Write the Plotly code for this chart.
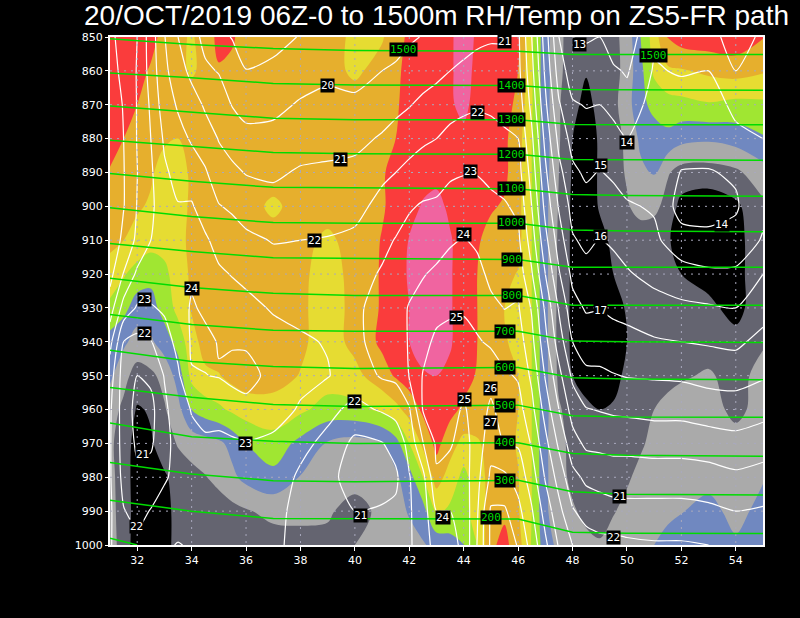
import numpy as np
import plotly.graph_objects as go

TITLE = "20/OCT/2019 06Z-0 to 1500m RH/Temp on ZS5-FR path"

pressure = [850, 860, 870, 880, 890, 900, 910, 920, 930, 940, 950, 960, 970, 980, 990, 1000]

# relative humidity, one list per pressure level
lon_rh = [31, 31.5, 32, 32.5, 33, 33.5, 34, 34.5, 35, 35.5, 36, 37, 38, 39, 40, 41, 41.5, 42, 42.5, 43, 43.5,
          44, 44.5, 45, 45.5, 46, 46.5, 47, 47.5, 48, 48.5, 49, 49.5, 50, 50.5, 51, 51.5, 52, 53, 54, 55]
rh_850 = [88, 88, 87, 83, 77, 72, 69, 74, 83, 81, 76, 74, 75, 74, 68, 69, 76, 82, 85, 87, 89,
          93, 89, 86, 85, 81, 62, 44, 32, 26, 25, 25, 27, 34, 50, 65, 81, 85, 86, 87, 80.5]
rh_860 = [87, 86, 83, 79, 75, 72, 69, 72, 79, 78, 75, 74, 75, 74, 68, 74, 78, 83, 85, 87, 89,
          93, 88, 86, 85, 80, 61, 44, 32, 25, 20.5, 23, 26, 34, 47, 62, 68, 69, 72, 74, 71]
rh_870 = [88, 84, 80, 77, 75, 74, 74, 75, 75, 75, 75, 75, 76, 75, 75, 76, 79, 83, 85, 87, 89,
          92, 87, 85, 83, 78, 61, 44, 31, 22, 18, 22, 27, 36, 47, 53, 56, 57, 59, 57, 58]
rh_880 = [85, 80, 76, 74, 71, 70, 73, 75, 76, 76, 76, 76, 76, 76, 76, 77, 80, 83, 85, 87, 89,
          88, 86, 84, 82, 74, 60, 44, 31, 20, 16, 21, 26, 32, 42, 45, 47, 43, 41.5, 44, 49]
rh_890 = [79, 75, 73, 71, 67, 65, 72, 76, 76, 76, 76, 75, 75, 75, 76, 79, 83, 85, 86, 87, 87,
          87, 86, 84, 82, 74, 60, 44, 30, 19, 16, 21, 26, 31, 38, 41, 31, 26, 25.5, 28, 36]
rh_900 = [75, 73, 71, 69, 65, 63, 73, 75, 75, 75, 74, 68, 74, 74, 75, 79, 83, 86, 91, 93, 88,
          85, 83, 81, 79, 73, 60, 43, 29, 18, 14, 21, 25, 29, 34, 33, 26, 17, 14, 18, 28]
rh_910 = [73, 70, 67, 64, 63, 66, 73, 75, 75, 75, 75, 74, 73, 68, 74, 80.5, 85, 90.5, 94, 95, 91,
          85, 81, 77, 75, 73, 60, 43, 28, 18, 14, 17, 22, 24, 24, 23, 21, 16, 13, 17, 26]
rh_920 = [65, 61, 56, 53, 58, 64, 72, 75, 75, 75, 75, 75, 72, 66, 73, 81, 86, 91, 95, 96, 91,
          85, 80, 75, 72, 69.5, 60, 43, 28, 18, 15, 16, 20, 22, 23, 23, 22, 20, 17, 17, 26]
rh_930 = [58, 53, 45, 46, 54, 63, 71, 75, 75, 75, 75, 75, 72, 65, 73, 81, 86, 90, 95, 96, 91,
          85, 80, 75, 70, 66, 60, 43, 27, 18, 14, 13, 16, 21, 24, 25, 25, 25, 22, 17, 26]
rh_940 = [46, 42, 36, 38.5, 45, 54, 66, 74, 75, 75, 75, 75, 72, 65, 73, 82, 86, 90, 94, 95, 91,
          85, 80, 76, 71, 67, 60, 43, 27, 18, 13, 11, 14, 20, 23, 25, 26, 27, 26, 23, 29]
rh_950 = [42, 33, 26, 28, 33, 44, 63, 68, 69.5, 73, 75, 74, 69.5, 65, 67, 76, 81, 85, 89, 90, 88,
          84, 79, 75, 72, 70, 60, 43, 28, 20, 14, 14, 17, 22, 25, 27, 28, 29, 31, 27, 33]
rh_960 = [34, 28, 19, 21, 29, 37, 50, 55, 58, 62, 65, 66, 62, 56, 57, 62, 67, 74, 82, 87, 83,
          78, 75, 74, 73, 70, 60, 43, 31, 26, 23, 20, 21, 24, 27, 30, 32, 34, 33, 28, 33]
rh_970 = [32, 25, 16, 19, 24, 31, 34, 36, 38, 43, 50, 56, 47, 39, 36, 39, 46, 60, 72, 83, 74,
          67, 69, 73, 74, 69, 60, 42, 32, 28, 26, 24, 25, 27, 29, 32, 34, 35, 35, 33, 35]
rh_980 = [33, 25, 15, 14, 19, 23, 27, 29.5, 33, 38, 43, 47, 39.5, 35, 33, 34, 38, 46, 60, 74, 66,
          57, 66, 73, 76, 70.5, 60, 42, 33, 28, 27, 26, 27, 29, 32, 33, 35, 36, 36, 35, 39]
rh_990 = [33, 26, 15, 13, 18, 22, 24, 25, 25, 27, 29, 33, 33, 31, 27, 32, 36, 41, 46, 62, 58,
          56, 66, 73, 78, 71, 60, 42, 33, 31, 28, 26, 29.5, 32, 35, 37, 38, 39.5, 44, 36, 44]
rh_1000 = [34, 26, 14, 13, 19, 21, 23, 23, 23, 24, 24, 25, 26, 28, 30, 33, 34, 36, 39, 43, 46,
           49.5, 60, 78, 83, 74, 59, 45, 37, 33, 32, 31, 33, 35, 37, 40, 43, 45, 46, 42, 46]

# temperature, one list per longitude, top to bottom
lon_temp = [31, 31.5, 32, 32.5, 33, 33.5, 34, 34.5, 35, 35.5, 36, 37, 38, 39, 40, 41, 41.5, 42, 42.5, 43, 43.5,
            44, 44.5, 45, 45.5, 46, 46.5, 47, 47.5, 48, 48.5, 49, 49.5, 50, 51, 52, 53, 54, 55]
t_31 = [26.3, 26.6, 26.9, 27, 27, 27, 26.9, 26.3, 25.5, 24.3, 23.5, 23.15, 23.1, 23.1, 23.15, 23.1]
t_31_5 = [25.5, 25.6, 25.9, 26, 26.05, 26.05, 25.7, 24.95, 23.6, 22, 21.5, 21.5, 21.55, 21.7, 22.05, 22.3]
t_32 = [25, 24.95, 24.95, 24.95, 25.02, 24.95, 24.8, 23.8, 22.9, 21.7, 21, 20.7, 20.85, 21.2, 21.7, 22.25]
t_32_5 = [23.5, 23.6, 23.85, 24, 24.15, 24.1, 24, 23.7, 22.9, 21.95, 21.2, 20.7, 20.85, 21.4, 22.05, 22.4]
t_33 = [22.05, 22.2, 22.45, 22.85, 23.15, 23.7, 23.9, 23.75, 23.15, 22.55, 22.05, 21.8, 21.7, 21.9, 22.35, 22.85]
t_33_5 = [21, 21.5, 21.9, 22.3, 22.7, 23.05, 23.35, 23.55, 23.55, 23.3, 22.85, 22.55, 22.35, 22.25, 22.45, 23.05]
t_34 = [20.35, 20.7, 21.5, 21.9, 22.45, 23.1, 23.4, 23.85, 24.1, 24.1, 23.95, 23.05, 22.75, 22.5, 22.4, 22.9]
t_34_5 = [19.75, 20.15, 20.85, 21.5, 22.1, 22.5, 23.15, 23.5, 23.85, 24.2, 23.98, 23.4, 22.8, 22.55, 22.4, 22.5]
t_35 = [19.25, 19.95, 20.45, 20.95, 21.45, 22.05, 22.65, 23.15, 23.6, 23.95, 24.05, 23.25, 22.85, 22.6, 22.4, 22.4]
t_35_5 = [18.95, 19.5, 19.95, 20.6, 21.2, 21.85, 22.45, 22.95, 23.45, 23.9, 24.3, 23.4, 22.9, 22.6, 22.4, 22.35]
t_36 = [18.1, 19.05, 19.65, 20.3, 20.95, 21.6, 22.2, 22.75, 23.3, 23.85, 24.4, 23.65, 22.95, 22.6, 22.4, 22.3]
t_37 = [18.7, 19.2, 19.75, 20.3, 20.85, 21.35, 21.95, 22.4, 22.9, 23.4, 23.65, 23.4, 22.8, 22.5, 22.3, 22.2]
t_38 = [19.05, 19.55, 20.1, 20.6, 21.1, 21.6, 22, 22.4, 22.8, 23.1, 23.25, 22.9, 22.25, 21.85, 21.7, 21.7]
t_39 = [19.2, 19.8, 20.25, 20.7, 21.15, 21.6, 22.05, 22.45, 22.75, 22.95, 23.05, 22.25, 21.75, 21.4, 21.3, 21.5]
t_40 = [19.3, 19.65, 20.2, 20.75, 21.25, 21.7, 22.2, 22.6, 22.85, 22.8, 22.5, 21.75, 20.75, 20.4, 21, 21.5]
t_41 = [19.5, 20, 20.55, 21.1, 21.8, 22.3, 22.75, 23.1, 23.3, 23.35, 23.1, 22.1, 20.95, 20.6, 21.1, 21.5]
t_41_5 = [19.6, 20.15, 20.75, 21.35, 22, 22.55, 23.05, 23.45, 23.7, 23.7, 23.2, 22.3, 21.4, 20.8, 21.2, 21.5]
t_42 = [19.85, 20.45, 20.95, 21.55, 22.3, 22.9, 23.35, 23.75, 24.05, 24.05, 24.05, 22.9, 22.3, 21.95, 21.9, 21.9]
t_42_5 = [20.05, 20.6, 21.2, 21.85, 22.45, 23.1, 23.55, 23.95, 24.3, 24.7, 25.05, 25.05, 23.95, 22.7, 22.5, 22.4]
t_43 = [20.3, 20.8, 21.35, 22, 22.6, 23.15, 23.65, 24.15, 24.7, 25.2, 25.4, 25.3, 25.15, 24.9, 24, 23.5]
t_43_5 = [20.5, 21, 21.6, 22.3, 22.85, 23.4, 23.9, 24.35, 24.85, 25.3, 25.5, 25.3, 25.1, 24.6, 24, 23.7]
t_44 = [20.6, 21.2, 21.8, 22.4, 22.95, 23.5, 24.05, 24.5, 24.9, 25.3, 25.3, 24.9, 24.6, 24.5, 24.3, 24.2]
t_44_5 = [20.8, 21.35, 21.9, 22.4, 22.95, 23.45, 23.85, 24.25, 24.65, 25.1, 25.3, 25.4, 25.5, 25.7, 25.9, 26.05]
t_45 = [20.9, 21.4, 21.85, 22.3, 22.8, 23.2, 23.5, 23.8, 24.2, 24.85, 25.6, 26.2, 26.6, 27.2, 28.15, 28.2]
t_45_5 = [20.95, 21.2, 21.7, 22.15, 22.6, 23.1, 23.3, 23.7, 23.98, 24.45, 25.15, 25.5, 25.95, 27.2, 28.15, 28.8]
t_46 = [21.2, 21.3, 21.6, 22, 22.4, 22.8, 23.2, 23.6, 24.1, 24.5, 24.9, 25.4, 25.9, 26.6, 27.3, 27.9]
t_46_5 = [19, 19.3, 19.7, 20.2, 20.6, 21, 21.5, 22.1, 22.9, 23.3, 23.8, 24.3, 24.9, 25.5, 26.1, 26.6]
t_47 = [16.5, 16.8, 17.2, 17.7, 18.2, 18.7, 19.3, 20, 20.8, 21.3, 21.9, 22.6, 23.3, 23.9, 24.6, 25.2]
t_47_5 = [14, 14.5, 15.1, 15.7, 16.3, 16.9, 17.5, 18.1, 18.9, 19.5, 20.3, 21, 21.8, 22.6, 23.3, 23.9]
t_48 = [13, 13.5, 14.1, 14.65, 15.2, 15.65, 16.1, 16.75, 17.35, 18, 18.8, 19.6, 20.4, 21.3, 22.1, 23]
t_48_5 = [12.9, 13.45, 13.95, 14.4, 14.85, 15.35, 15.8, 16.3, 16.9, 17.55, 18.2, 19.05, 19.8, 20.8, 21.6, 22.5]
t_49 = [13, 13.5, 14, 14.5, 15.05, 15.55, 16.05, 16.5, 16.95, 17.6, 18.15, 18.95, 19.75, 20.65, 21.45, 22.3]
t_49_5 = [12.4, 13.15, 13.75, 14.3, 14.85, 15.35, 15.85, 16.35, 16.8, 17.4, 18.05, 18.85, 19.7, 20.5, 21.35, 22.3]
t_50 = [12.5, 12.9, 13.4, 14, 14.6, 15.1, 15.6, 16.1, 16.7, 17.3, 17.95, 18.8, 19.7, 20.5, 21.3, 22.2]
t_51 = [13.8, 14.1, 14.4, 14.6, 14.8, 14.9, 15.2, 15.7, 16.4, 17.1, 17.9, 18.7, 19.6, 20.5, 21.3, 22.1]
t_52 = [13.4, 13.9, 14.5, 14.6, 13.95, 13.6, 14.4, 15.4, 16.2, 17, 17.85, 18.7, 19.6, 20.5, 21.3, 22.1]
t_53 = [13.4, 14, 14.4, 14.4, 13.95, 13.7, 14.2, 15.2, 16.1, 16.9, 17.7, 18.5, 19.5, 20.4, 21.2, 22]
t_54 = [12.5, 13, 13.8, 14.2, 14.1, 13.9, 14.3, 15.2, 16, 16.8, 17.6, 18.5, 19.3, 20.2, 21, 21.7]
t_55 = [13.2, 13.4, 13.7, 14, 14.4, 14.75, 15.1, 16, 16.6, 17.3, 17.9, 18.7, 19.5, 20.4, 21.1, 21.8]

# height lines, pressure of each height at these longitudes
lon_hgt = [31, 34, 37, 40, 46, 48, 50, 55]
hgt_1500 = [850.5, 852.2, 853.4, 854, 854.2, 855.2, 855.2, 855.2]
hgt_1400 = [860.6, 862, 863.7, 864.2, 864.3, 865.5, 865.6, 865.7]
hgt_1300 = [870.4, 872.3, 874, 874.4, 874.4, 875.8, 875.9, 875.9]
hgt_1200 = [880.5, 882.4, 884.1, 884.5, 884.6, 886.2, 886.3, 886.4]
hgt_1100 = [890.3, 892.6, 894.4, 894.6, 894.8, 896.5, 896.8, 897]
hgt_1000 = [900.4, 903, 904.8, 905, 905, 907, 907.3, 907.5]
hgt_900 = [911, 913.3, 915.2, 915.4, 915.7, 918, 918, 918]
hgt_800 = [921.2, 924, 925.7, 926.3, 926.3, 929.2, 929.2, 929.2]
hgt_700 = [931.9, 934.9, 936.6, 936.9, 936.9, 939.8, 940, 940.2]
hgt_600 = [942.5, 945.8, 947.3, 947.9, 947.6, 950.6, 951, 951.2]
hgt_500 = [953.5, 956.4, 958.5, 959.1, 958.7, 961.8, 962.2, 962.3]
hgt_400 = [964, 968, 969.4, 970, 969.8, 973, 973.5, 973.8]
hgt_300 = [975.6, 979, 981, 981.3, 980.9, 984.3, 985, 985.2]
hgt_200 = [986.8, 990, 992.2, 992.3, 992.3, 996.2, 996.5, 996.6]
lon_hgt_100 = [31, 32]
hgt_100 = [998, 1000]

# contour labels
temp_label_lon = [48.27, 49.99, 49.04, 49.03, 49.01, 53.51, 45.5, 44.5, 44.26, 44.02, 43.75, 44.02, 45, 45, 43.23,
                  49.74, 49.52, 38.98, 39.47, 38.51, 34, 32.25, 32.25, 35.99, 40, 40.22, 32.19, 31.98]
temp_label_p = [852.2, 881.1, 887.8, 909, 930.7, 905.4, 851.2, 872.4, 889.6, 908.3, 932.7, 957, 953.7, 963.9, 991.9,
                985.8, 997.9, 864.3, 886.2, 910, 924.3, 927.5, 937.6, 970.1, 957.5, 991.3, 973.3, 994.4]
temp_label_text = ["13", "14", "15", "16", "17", "14", "21", "22", "23", "24", "25", "25", "26", "27", "24",
                   "21", "22", "20", "21", "22", "24", "23", "22", "23", "22", "21", "21", "22"]
hgt_label_lon = [41.78, 50.99, 45.77, 45.77, 45.77, 45.77, 45.77, 45.77, 45.77, 45.5, 45.5, 45.5, 45.5, 45.5, 45]
hgt_label_p = [853.7, 855.5, 864.2, 874.3, 884.6, 894.7, 904.9, 915.6, 926.2, 936.9, 947.7, 958.8, 969.7, 980.9, 992]
hgt_label_text = ["1500", "1500", "1400", "1300", "1200", "1100", "1000", "900", "800", "700", "600", "500", "400",
                  "300", "200"]

x_ticks = [32, 34, 36, 38, 40, 42, 44, 46, 48, 50, 52, 54]
y_ticks = pressure

rh_colors = ["#000000", "#646470", "#aaaaaa", "#7088c0", "#a0e632", "#e6dc32", "#e6af2d", "#fa3c3c", "#f064a0"]

rh_grid = np.array([rh_850, rh_860, rh_870, rh_880, rh_890, rh_900, rh_910, rh_920, rh_930, rh_940, rh_950,
                    rh_960, rh_970, rh_980, rh_990, rh_1000])
temp_grid = np.array([t_31, t_31_5, t_32, t_32_5, t_33, t_33_5, t_34, t_34_5, t_35, t_35_5, t_36, t_37, t_38, t_39,
                      t_40, t_41, t_41_5, t_42, t_42_5, t_43, t_43_5, t_44, t_44_5, t_45, t_45_5, t_46, t_46_5,
                      t_47, t_47_5, t_48, t_48_5, t_49, t_49_5, t_50, t_51, t_52, t_53, t_54, t_55]).T

n = len(rh_colors)
stepped = []
for i, col in enumerate(rh_colors):
    stepped += [[i / n, col], [(i + 1) / n, col]]

fig = go.Figure()
fig.add_trace(go.Contour(
    x=lon_rh, y=pressure, z=rh_grid, showscale=False, hoverinfo="skip",
    colorscale=stepped, autocontour=False,
    contours=dict(coloring="fill", start=20, end=90, size=10),
    line=dict(width=0, smoothing=1),
))
fig.add_trace(go.Contour(
    x=lon_temp, y=pressure, z=temp_grid, showscale=False, hoverinfo="skip",
    autocontour=False,
    contours=dict(coloring="none", start=13, end=29, size=1),
    line=dict(color="white", width=1.2, smoothing=0.6),
))

# dotted grid goes in as traces so it sits over the fill
for lon in x_ticks:
    fig.add_trace(go.Scatter(x=[lon, lon], y=[850, 1000], mode="lines", hoverinfo="skip",
                             line=dict(color="#a9a9bd", width=1, dash="2px,5px")))
for p in y_ticks[1:-1]:
    fig.add_trace(go.Scatter(x=[31, 55], y=[p, p], mode="lines", hoverinfo="skip",
                             line=dict(color="#a9a9bd", width=1, dash="2px,5px")))

for levels in [hgt_1500, hgt_1400, hgt_1300, hgt_1200, hgt_1100, hgt_1000, hgt_900, hgt_800, hgt_700,
               hgt_600, hgt_500, hgt_400, hgt_300, hgt_200]:
    fig.add_trace(go.Scatter(x=lon_hgt, y=levels, mode="lines", hoverinfo="skip",
                             line=dict(color="#00dc00", width=1.5)))
fig.add_trace(go.Scatter(x=lon_hgt_100, y=hgt_100, mode="lines", hoverinfo="skip",
                         line=dict(color="#00dc00", width=1.5)))

label_font = "DejaVu Sans Mono"
for lon, p, txt in zip(temp_label_lon, temp_label_p, temp_label_text):
    fig.add_annotation(x=lon, y=p, text=txt, showarrow=False, bgcolor="black", borderpad=0,
                       font=dict(family=label_font, size=11, color="white"))
for lon, p, txt in zip(hgt_label_lon, hgt_label_p, hgt_label_text):
    fig.add_annotation(x=lon, y=p, text=txt, showarrow=False, bgcolor="black", borderpad=0,
                       font=dict(family=label_font, size=11, color="#00dc00"))

fig.add_annotation(x=0.5, y=1, xref="paper", yref="paper", xanchor="center", yanchor="bottom", yshift=6,
                   height=29, borderpad=0, text=TITLE, showarrow=False,
                   font=dict(family="Liberation Sans", size=28, color="white"))

fig.update_xaxes(range=[31, 55], tickvals=x_ticks, showgrid=False, zeroline=False, showline=True, mirror=True,
                 linecolor="white", linewidth=2, ticks="outside", ticklen=4, tickcolor="white",
                 tickfont=dict(family="DejaVu Sans", size=11, color="white"))
fig.update_yaxes(range=[1000, 850], tickvals=y_ticks, showgrid=False, zeroline=False, showline=True, mirror=True,
                 linecolor="white", linewidth=2, ticks="outside", ticklen=3, tickcolor="white",
                 tickfont=dict(family="DejaVu Sans", size=11, color="white"))
fig.update_layout(width=800, height=618, showlegend=False, paper_bgcolor="black", plot_bgcolor="black",
                  margin=dict(l=110, r=37, t=37, b=73, pad=0))

fig.write_html("out.html", config={"displayModeBar": False},
               post_script="document.body.style.margin='0';document.body.style.background='black';")
